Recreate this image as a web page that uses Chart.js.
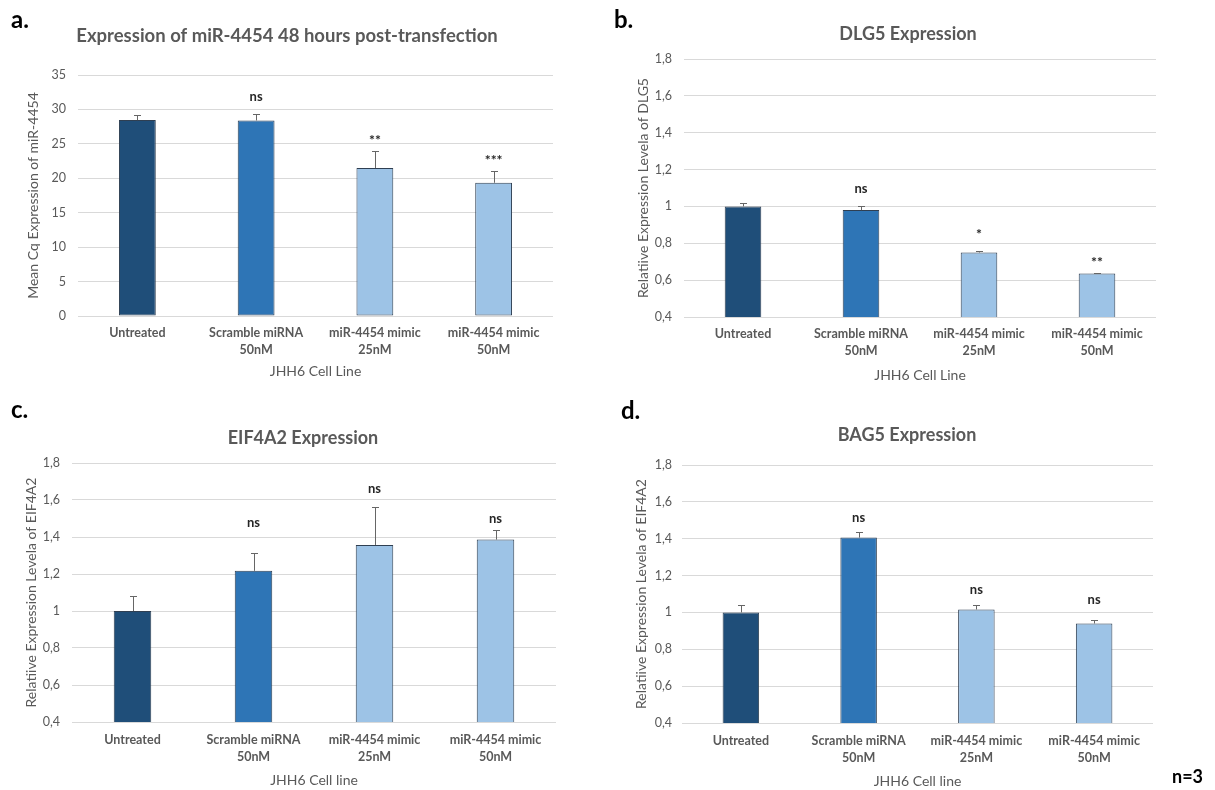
<!DOCTYPE html>
<html>
<head>
<meta charset="utf-8">
<script src="https://cdn.jsdelivr.net/npm/chart.js@4.4.1/dist/chart.umd.min.js"></script>
<style>
  html, body { margin: 0; padding: 0; background: #ffffff; }
  body { width: 1215px; height: 790px; position: relative; overflow: hidden; font-family: Lato, "Open Sans", sans-serif; }
  canvas { position: absolute; }
  .tag { position: absolute; font-weight: 700; color: #000; line-height: 1; white-space: nowrap; }
</style>
</head>
<body>
<canvas id="panelA" width="600" height="395" style="left:0px;top:0px"></canvas>
<canvas id="panelB" width="610" height="395" style="left:605px;top:0px"></canvas>
<canvas id="panelC" width="600" height="395" style="left:0px;top:395px"></canvas>
<canvas id="panelD" width="610" height="395" style="left:605px;top:395px"></canvas>

<div class="tag" style="left:11px;top:7px;font-size:24px">a.</div>
<div class="tag" style="left:614px;top:7px;font-size:24px">b.</div>
<div class="tag" style="left:11px;top:397px;font-size:24px">c.</div>
<div class="tag" style="left:621px;top:398px;font-size:24px">d.</div>
<div class="tag" style="left:1172px;top:767px;font-size:18px">n=3</div>

<script>
// ---- data ----
const categories = [
  'Untreated',
  ['Scramble miRNA', '50nM'],
  ['miR-4454 mimic', '25nM'],
  ['miR-4454 mimic', '50nM']
];

// mean Cq of miR-4454, 48 h after transfection
const mirCqMean = [28.45, 28.4, 21.5, 19.35];
const mirCqErr  = [0.75, 1.0, 2.5, 1.65];
const mirCqSig  = ['', 'ns', '**', '***'];

// relative expression of DLG5
const dlg5Mean = [1.0, 0.98, 0.75, 0.636];
const dlg5Err  = [0.018, 0.022, 0.006, 0.004];
const dlg5Sig  = ['', 'ns', '*', '**'];

// relative expression of EIF4A2
const eif4a2Mean = [1.0, 1.217, 1.357, 1.386];
const eif4a2Err  = [0.08, 0.095, 0.207, 0.052];
const eif4a2Sig  = ['', 'ns', 'ns', 'ns'];

// relative expression of BAG5
const bag5Mean = [1.0, 1.406, 1.016, 0.94];
const bag5Err  = [0.043, 0.033, 0.023, 0.02];
const bag5Sig  = ['', 'ns', 'ns', 'ns'];

// y axis ticks
const cqTickValues  = [0, 5, 10, 15, 20, 25, 30, 35];
const cqTickLabels  = ['0', '5', '10', '15', '20', '25', '30', '35'];
const relTickValues = [0.4, 0.6, 0.8, 1.0, 1.2, 1.4, 1.6, 1.8];
const relTickLabels = ['0,4', '0,6', '0,8', '1', '1,2', '1,4', '1,6', '1,8'];

// ---- styling ----
const FONT = 'Lato, "Open Sans", sans-serif';
const TEXT_GREY = '#595959';
const barFill = ['#1F4E79', '#2E75B6', '#9DC3E6', '#9DC3E6'];
const barEdge = '#2f3f52';

// Chart title drawn at a fixed centre inside the canvas
const panelTitlePlugin = {
  id: 'panelTitle',
  afterDraw(chart, args, opts) {
    const ctx = chart.ctx;
    ctx.save();
    ctx.font = `bold ${opts.size}px ${FONT}`;
    ctx.fillStyle = TEXT_GREY;
    ctx.textAlign = 'center';
    ctx.textBaseline = 'middle';
    ctx.fillText(opts.text, opts.x, opts.y);
    ctx.restore();
  }
};

// Positive error bars plus significance marks above them
const errorMarksPlugin = {
  id: 'errorMarks',
  afterDatasetsDraw(chart, args, opts) {
    const ctx = chart.ctx;
    const meta = chart.getDatasetMeta(0);
    const yScale = chart.scales.y;
    const values = chart.data.datasets[0].data;
    ctx.save();
    meta.data.forEach((bar, i) => {
      const x = Math.round(bar.x) + 0.5;
      const top = Math.round(yScale.getPixelForValue(values[i] + opts.err[i])) + 0.5;
      ctx.strokeStyle = '#666666';
      ctx.lineWidth = 1;
      ctx.beginPath();
      ctx.moveTo(x, bar.y);
      ctx.lineTo(x, top);
      ctx.moveTo(x - 3.5, top);
      ctx.lineTo(x + 3.5, top);
      ctx.stroke();
      const mark = opts.sig[i];
      if (mark) {
        const isStar = mark.startsWith('*');
        ctx.font = `bold ${isStar ? 14 : 13}px ${FONT}`;
        ctx.fillStyle = '#262626';
        ctx.textAlign = 'center';
        ctx.textBaseline = 'middle';
        ctx.fillText(mark, bar.x, top - opts.lift[i] + (isStar ? 1.5 : 0));
      }
    });
    ctx.restore();
  }
};

function buildPanel(id, spec) {
  return new Chart(document.getElementById(id), {
    type: 'bar',
    data: {
      labels: categories,
      datasets: [{
        data: spec.values,
        backgroundColor: barFill,
        borderColor: barEdge,
        borderWidth: 1,
        borderSkipped: false,
        barPercentage: 0.31,
        categoryPercentage: 1
      }]
    },
    options: {
      responsive: false,
      animation: false,
      devicePixelRatio: 1,
      layout: { padding: { left: 0, right: spec.box.padRight, top: spec.box.top, bottom: spec.box.padBottom } },
      plugins: {
        legend: { display: false },
        tooltip: { enabled: false },
        title: { display: false },
        panelTitle: { text: spec.title, x: spec.titleX, y: spec.titleY, size: spec.titleSize },
        errorMarks: { err: spec.err, sig: spec.sig, lift: spec.lift }
      },
      scales: {
        x: {
          grid: { display: false, drawTicks: false },
          border: { display: false },
          ticks: {
            color: TEXT_GREY,
            font: { family: FONT, size: 12.5, weight: 'bold', lineHeight: '17px' },
            padding: spec.box.xTickPad,
            maxRotation: 0,
            autoSkip: false
          },
          title: {
            display: true,
            text: spec.xTitle,
            color: TEXT_GREY,
            font: { family: FONT, size: 14, lineHeight: 1.2 },
            padding: { top: 0, bottom: spec.box.xTitlePad }
          },
          afterFit(scale) { scale.height = spec.box.xHeight; }
        },
        y: {
          min: spec.tickValues[0],
          max: spec.tickValues[spec.tickValues.length - 1],
          afterBuildTicks(scale) { scale.ticks = spec.tickValues.map(v => ({ value: v })); },
          grid: { color: '#d9d9d9', lineWidth: 1, drawTicks: false },
          border: { display: false },
          ticks: {
            color: TEXT_GREY,
            font: { family: FONT, size: 12.5 },
            padding: spec.box.yTickPad,
            callback: (v, i) => spec.tickLabels[i]
          },
          title: {
            display: true,
            text: spec.yTitle,
            color: TEXT_GREY,
            font: { family: FONT, size: 14, lineHeight: 1.2 },
            padding: { top: spec.box.yTitlePad, bottom: 0 }
          },
          afterFit(scale) { scale.width = spec.box.yWidth; }
        }
      }
    },
    plugins: [panelTitlePlugin, errorMarksPlugin]
  });
}

buildPanel('panelA', {
  values: mirCqMean, err: mirCqErr, sig: mirCqSig, lift: [0, 18, 13, 13],
  tickValues: cqTickValues, tickLabels: cqTickLabels,
  title: 'Expression of miR-4454 48 hours post-transfection', titleX: 287, titleY: 36, titleSize: 18.5,
  xTitle: 'JHH6 Cell Line', yTitle: 'Mean Cq Expression of miR-4454',
  box: { top: 75, padRight: 47, padBottom: 13, xHeight: 66, yWidth: 78,
         xTickPad: 8.5, xTitlePad: 2, yTickPad: 12, yTitlePad: 24.6 }
});

buildPanel('panelB', {
  values: dlg5Mean, err: dlg5Err, sig: dlg5Sig, lift: [0, 18, 19, 13],
  tickValues: relTickValues, tickLabels: relTickLabels,
  title: 'DLG5 Expression', titleX: 303, titleY: 34, titleSize: 18,
  xTitle: 'JHH6 Cell Line', yTitle: 'Relatiive Expression Levela of DLG5',
  box: { top: 59, padRight: 59, padBottom: 9, xHeight: 69, yWidth: 79,
         xTickPad: 8.5, xTitlePad: 2, yTickPad: 12, yTitlePad: 29.6 }
});

buildPanel('panelC', {
  values: eif4a2Mean, err: eif4a2Err, sig: eif4a2Sig, lift: [0, 31, 19, 12],
  tickValues: relTickValues, tickLabels: relTickLabels,
  title: 'EIF4A2 Expression', titleX: 303, titleY: 43, titleSize: 18,
  xTitle: 'JHH6 Cell line', yTitle: 'Relatiive Expression Levela of EIF4A2',
  box: { top: 68, padRight: 44, padBottom: 1, xHeight: 67, yWidth: 72,
         xTickPad: 9.5, xTitlePad: 0, yTickPad: 12, yTitlePad: 22.6 }
});

buildPanel('panelD', {
  values: bag5Mean, err: bag5Err, sig: bag5Sig, lift: [0, 15, 16, 21],
  tickValues: relTickValues, tickLabels: relTickLabels,
  title: 'BAG5 Expression', titleX: 302, titleY: 40, titleSize: 18,
  xTitle: 'JHH6 Cell line', yTitle: 'Relatiive Expression Levela of EIF4A2',
  box: { top: 70, padRight: 62, padBottom: 0, xHeight: 67, yWidth: 77,
         xTickPad: 9.5, xTitlePad: 0, yTickPad: 10, yTitlePad: 27.6 }
});
</script>
</body>
</html>
